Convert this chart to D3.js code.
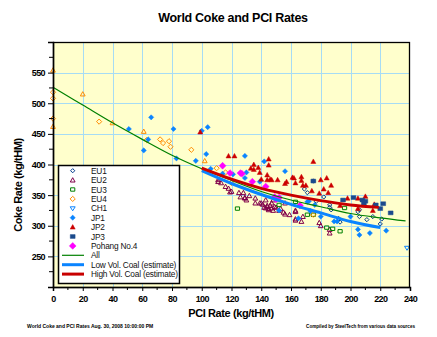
<!DOCTYPE html>
<html>
<head>
<meta charset="utf-8">
<script src="https://cdn.jsdelivr.net/npm/d3@7"></script>
<style>
  body { margin: 0; background: #fff; }
  text { font-family: Arial, "Liberation Sans", sans-serif; }
</style>
</head>
<body>
<div id="chart"></div>
<script>
// data: [PCI kg/tHM, coke kg/tHM]
var eu1 = [[169,360],[171,354],[177,340],[182,347],[186,334],[186,330],[187,326],[192,312],[193,306],[205,323],[206,326],[206,315],[211,310],[215,315],[221,311],[220,303],[175,373]];
var eu2 = [[111,375],[111,372],[113,370],[116,364],[118,361],[120,356],[119,355],[125,354],[128,354],[126,347],[129,346],[129,345],[130,342],[132,349],[136,345],[136,337],[139,337],[140,337],[141,335],[142,330],[143,329],[143,342],[144,333],[144,331],[145,326],[145,328],[146,333],[147,329],[147,337],[148,342],[148,325],[149,331],[150,330],[152,325],[153,328],[155,322],[156,337],[156,319],[159,318],[163,311],[163,309],[163,323],[163,325],[168,315],[167,307],[179,305],[180,300],[186,294],[186,288]];
var eu3 = [[124,328],[152,334],[163,339],[171,318],[175,318],[184,297],[188,295],[193,291],[196,329]];
var eu4 = [[0,518],[0,508],[0,475],[31,470],[63,440],[72,441],[74,435],[78,438],[79,429],[93,424],[110,394],[116,387],[120,370],[175,318]];
var eu4b = [[0,554],[0,462],[20,515],[40,468],[61,454],[102,406]];
var ch1 = [[238,264]];
var jp1 = [[66,477],[51,458],[81,458],[100,455],[104,461],[64,441],[61,423],[83,410],[96,406],[103,417],[106,393],[129,414],[142,405],[114,385],[121,384],[130,387],[139,372],[129,378],[156,389],[171,339],[172,340],[176,334],[152,325],[165,312],[173,324],[180,315],[189,307],[191,307],[200,315],[205,294],[206,285],[213,288],[224,292]];
var jp2 = [[99,453],[118,414],[122,414],[145,409],[145,399],[135,400],[133,394],[135,392],[138,395],[139,387],[144,383],[147,375],[140,376],[144,375],[146,376],[151,375],[157,372],[156,369],[161,379],[162,378],[163,370],[167,374],[167,380],[168,366],[170,366],[174,357],[175,405],[180,375],[184,378],[187,366],[182,360],[185,354],[179,353],[193,333],[198,345],[205,345],[210,348],[216,335],[215,325],[205,328]];
var jp3 = [[175,373],[195,342],[202,346],[208,342],[209,337],[210,340],[217,334],[222,336],[220,328],[227,321]];
var pohang = [[114,398],[119,386],[126,386],[127,385],[134,372],[143,364],[149,347],[150,343],[152,346],[166,333]];

var allFit = [[0,526],[20,497],[40,468],[60,441],[80,415],[100,393],[120,374],[140,356],[160,342],[180,331],[200,320],[220,313],[237,308]];
var lowVol = [[100,390],[120,369],[140,351],[160,335],[180,321],[200,307],[220,297]];
var highVol = [[100,394],[120,376],[140,361],[160,350],[180,341],[200,334],[219,330]];

var xTicks = [0,20,40,60,80,100,120,140,160,180,200,220,240];
var yTicks = [250,300,350,400,450,500,550];

var svgWidth = 437, svgHeight = 337;
var margin = {top: 42, right: 27, bottom: 50, left: 53},
    width = svgWidth - margin.left - margin.right,
    height = svgHeight - margin.top - margin.bottom;

var svg = d3.select("#chart").append("svg")
    .attr("width", svgWidth)
    .attr("height", svgHeight);

svg.append("text")
    .attr("x", 233).attr("y", 22)
    .attr("text-anchor", "middle")
    .style("font-size", "12.5px").style("font-weight", "bold")
    .style("letter-spacing", "-0.3px")
    .text("World Coke and PCI Rates");

var g = svg.append("g").attr("transform", `translate(${margin.left},${margin.top})`);

var x = d3.scaleLinear().domain([0, 240]).range([0, width]);
var y = d3.scaleLinear().domain([200, 600]).range([height, 0]);

g.append("rect").attr("width", width).attr("height", height).attr("fill", "#ffffcc");

// grid
g.append("g").selectAll("line").data(xTicks.filter(d => d > 0 && d < 240)).enter().append("line")
    .attr("x1", d => Math.round(x(d)) + 0.5).attr("x2", d => Math.round(x(d)) + 0.5)
    .attr("y1", 0).attr("y2", height)
    .attr("stroke", "#a6dcf5").attr("stroke-width", 1);
g.append("g").selectAll("line").data(yTicks).enter().append("line")
    .attr("y1", d => Math.round(y(d)) + 0.5).attr("y2", d => Math.round(y(d)) + 0.5)
    .attr("x1", 0).attr("x2", width)
    .attr("stroke", "#a6dcf5").attr("stroke-width", 1);

// marker shapes
function shape(kind, r) {
  if (kind == "diamond") return `M0,${-r}L${r},0L0,${r}L${-r},0Z`;
  if (kind == "tri") return `M0,${-r}L${r},${r*0.8}L${-r},${r*0.8}Z`;
  if (kind == "tridown") return `M${-r},${-r*0.6}L${r},${-r*0.6}L0,${r}Z`;
  if (kind == "square") return `M${-r},${-r*0.8}H${r}V${r*0.8}H${-r}Z`;
}

var series = [
  {name: "EU1", data: eu1, kind: "diamond", r: 2.1, color: "#003a8c", fill: false},
  {name: "EU2", data: eu2, kind: "tri", r: 2.4, color: "#80004a", fill: false},
  {name: "EU3", data: eu3, kind: "square", r: 2.1, color: "#008000", fill: false},
  {name: "EU4", data: eu4, kind: "diamond", r: 2.6, color: "#ff8c00", fill: false},
  {name: "CH1", data: ch1, kind: "tridown", r: 2.5, color: "#0a84ff", fill: false},
  {name: "JP1", data: jp1, kind: "diamond", r: 2.6, color: "#0a84ff", fill: true},
  {name: "JP2", data: jp2, kind: "tri", r: 2.5, color: "#cc0000", fill: true},
  {name: "JP3", data: jp3, kind: "square", r: 2.4, color: "#1c4a8c", fill: true},
  {name: "Pohang No.4", data: pohang, kind: "diamond", r: 3.4, color: "#ff00ff", fill: true}
];
var extra = {data: eu4b, kind: "tri", r: 2.4, color: "#ff8c00", fill: false};

var marks = g.append("g");
[extra].concat(series).forEach(function(s) {
  marks.append("g").selectAll("path").data(s.data).enter().append("path")
      .attr("transform", d => `translate(${x(d[0])},${y(d[1])})`)
      .attr("d", shape(s.kind, s.r))
      .attr("fill", s.fill ? s.color : "none")
      .attr("stroke", s.color)
      .attr("stroke-width", s.fill ? 0.5 : 1);
});

// fitted lines
var line = d3.line().x(d => x(d[0])).y(d => y(d[1])).curve(d3.curveMonotoneX);
var lines = [
  {name: "All", data: allFit, color: "#008000", w: 1.2},
  {name: "Low Vol. Coal (estimate)", data: lowVol, color: "#0a84ff", w: 3},
  {name: "High Vol. Coal (estimate)", data: highVol, color: "#c80000", w: 3}
];
lines.forEach(function(l) {
  g.append("path").datum(l.data).attr("d", line)
      .attr("fill", "none").attr("stroke", l.color).attr("stroke-width", l.w);
});

// frame
g.append("rect").attr("x", 0.5).attr("y", 0.5).attr("width", width - 1).attr("height", height)
    .attr("fill", "none").attr("stroke", "#000").attr("stroke-width", 1.3);

// axes
var xAxis = d3.axisBottom(x).tickValues(xTicks).tickSize(4).tickPadding(5);
var xa = g.append("g").attr("transform", `translate(0,${height})`).call(xAxis);
xa.append("g").selectAll("line").data(d3.range(10, 240, 20)).enter().append("line")
    .attr("x1", d => x(d)).attr("x2", d => x(d)).attr("y1", 0).attr("y2", 3).attr("stroke", "#000");

var yAxis = d3.axisLeft(y).tickValues(yTicks).tickSize(5).tickPadding(3);
var ya = g.append("g").call(yAxis);
ya.append("g").selectAll("line").data(d3.range(225, 600, 50)).enter().append("line")
    .attr("x1", -4).attr("x2", 0).attr("y1", d => y(d)).attr("y2", d => y(d)).attr("stroke", "#000");

[xa, ya].forEach(function(a) {
  a.select(".domain").attr("stroke", "#000").attr("stroke-width", 1.5);
  a.selectAll(".tick line").attr("stroke", "#000");
  a.selectAll("text").style("font-size", "9px").style("font-weight", "bold")
      .style("letter-spacing", "-0.6px").attr("fill", "#000")
      .style("font-family", "Arial, 'Liberation Sans', sans-serif");
});

svg.append("text")
    .attr("transform", "translate(22,185) rotate(-90)")
    .attr("text-anchor", "middle")
    .style("font-size", "11px").style("font-weight", "bold").style("letter-spacing", "-0.4px")
    .text("Coke Rate (kg/tHM)");

svg.append("text")
    .attr("x", 231).attr("y", 317)
    .attr("text-anchor", "middle")
    .style("font-size", "11px").style("font-weight", "bold").style("letter-spacing", "-0.4px")
    .text("PCI Rate (kg/tHM)");

// footers
svg.append("text").attr("x", 27).attr("y", 328)
    .style("font-size", "5px").style("font-weight", "bold")
    .text("World Coke and PCI Rates Aug. 30, 2008 10:00:00 PM");
svg.append("text").attr("x", 415).attr("y", 328).attr("text-anchor", "end")
    .style("font-size", "4.6px").style("font-weight", "bold")
    .text("Compiled by SteelTech from various data sources");

// legend
var legend = svg.append("g").attr("transform", "translate(58,165)");
legend.append("rect").attr("x", 0.5).attr("y", 0.5).attr("width", 121).attr("height", 118)
    .attr("fill", "#fff").attr("stroke", "#000").attr("stroke-width", 1.5);

var items = series.map(s => ({type: "mark", s: s})).concat(lines.map(l => ({type: "line", s: l})));
var row = legend.selectAll(".item").data(items).enter().append("g")
    .attr("transform", (d, i) => `translate(0,${5.7 + i * 9.4})`);

row.filter(d => d.type == "mark").append("path")
    .attr("transform", "translate(14.7,0)")
    .attr("d", d => shape(d.s.kind, d.s.r))
    .attr("fill", d => d.s.fill ? d.s.color : "none")
    .attr("stroke", d => d.s.color)
    .attr("stroke-width", d => d.s.fill ? 0.5 : 1);

row.filter(d => d.type == "line").append("line")
    .attr("x1", 4).attr("x2", 26).attr("y1", 0).attr("y2", 0)
    .attr("stroke", d => d.s.color).attr("stroke-width", d => d.s.w);

row.append("text").attr("x", 33).attr("y", 3)
    .style("font-size", "8.3px").style("letter-spacing", "-0.2px")
    .attr("fill", "#111")
    .text(d => d.s.name);
</script>
</body>
</html>
